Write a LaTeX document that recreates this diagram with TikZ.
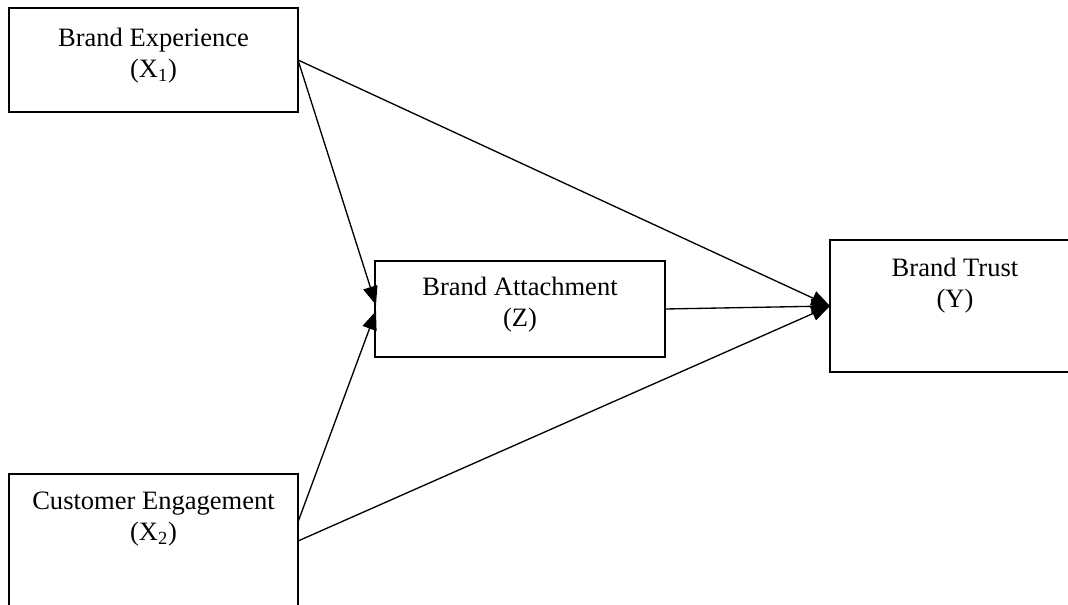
\documentclass[tikz,border=0pt]{standalone}
\usepackage{fontspec}
\setmainfont{Liberation Serif}
\usetikzlibrary{arrows.meta}
\begin{document}
\begin{tikzpicture}[x=0.75pt,y=-0.75pt,
  box/.style={draw=black, line width=1.3pt, rectangle, inner sep=0pt, outer sep=0pt},
  lbl/.style={anchor=north, align=center, inner sep=0pt,
    font=\fontsize{19.9pt}{23.25pt}\selectfont},
  arr/.style={line width=1pt, -{Triangle[length=14pt,width=11pt]}}]
\useasboundingbox (0,0) rectangle (1068,604);
\clip (0,0) rectangle (1068,604);
% boxes
\node[box, minimum width=216.75pt, minimum height=78pt] (be) at (153.5,60) {};
\node[box, minimum width=216.75pt, minimum height=100.5pt] (ce) at (153.5,541) {};
\node[box, minimum width=217.5pt, minimum height=72pt] (ba) at (520,309) {};
\node[box, minimum width=187.5pt, minimum height=99pt] (bt) at (955,306) {};
% labels
\node[lbl] (tbe) at ([yshift=-15pt]be.north) {Brand Experience\\(X\textsubscript{1})};
\node[lbl] (tce) at ([yshift=-13.5pt]ce.north) {Customer Engagement\\(X\textsubscript{2})};
\node[lbl] (tba) at ([yshift=-12pt]ba.north) {Brand Attachment\\(Z)};
\node[lbl] (tbt) at ([yshift=-13.5pt]bt.north) {Brand Trust\\(Y)};
% connectors
\draw[arr] (be.east) -- ([yshift=3pt,xshift=0.75pt]ba.west);
\draw[arr] ([yshift=14.25pt]ce.east) -- ([yshift=-1.5pt,xshift=0.75pt]ba.west);
\draw[arr] (be.east) -- (bt.west);
\draw[arr] (ba.east) -- (bt.west);
\draw[arr] (ce.east) -- (bt.west);
\end{tikzpicture}
\end{document}
